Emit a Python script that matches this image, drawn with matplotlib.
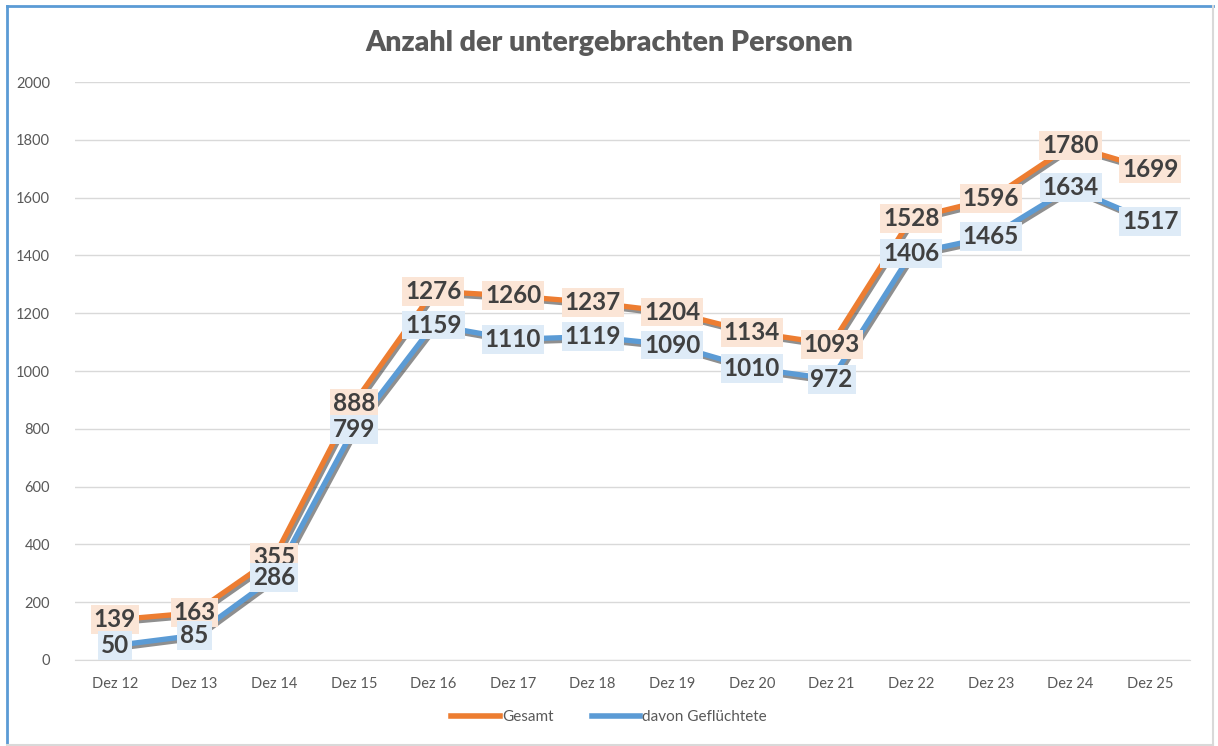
import matplotlib
matplotlib.use('Agg')
import matplotlib.pyplot as plt
import matplotlib.patheffects as pe
from matplotlib.lines import Line2D

plt.rcParams['font.family'] = ['Lato', 'DejaVu Sans']

tage = ['Dez 12', 'Dez 13', 'Dez 14', 'Dez 15', 'Dez 16', 'Dez 17', 'Dez 18',
        'Dez 19', 'Dez 20', 'Dez 21', 'Dez 22', 'Dez 23', 'Dez 24', 'Dez 25']
gesamt = [139, 163, 355, 888, 1276, 1260, 1237, 1204, 1134, 1093, 1528, 1596, 1780, 1699]
gefluechtete = [50, 85, 286, 799, 1159, 1110, 1119, 1090, 1010, 972, 1406, 1465, 1634, 1517]

orange = '#ED7D31'
blau = '#5B9BD5'
grau = '#595959'

fig = plt.figure(figsize=(12.18, 7.46), dpi=100)
ax = fig.add_axes([0.0616, 0.1153, 0.9154, 0.7747])

x = list(range(len(tage)))
shadow = [pe.SimpleLineShadow(offset=(1.5, -2), shadow_color='#333333', alpha=0.55), pe.Normal()]
ax.plot(x, gesamt, color=orange, lw=3.8, solid_capstyle='round', path_effects=shadow, zorder=3)
ax.plot(x, gefluechtete, color=blau, lw=3.8, solid_capstyle='round', path_effects=shadow, zorder=3)

# Datenbeschriftungen mitten auf den Punkten
for i in x:
    ax.text(i, gesamt[i], str(gesamt[i]), ha='center', va='center', fontsize=17.5,
            fontweight='bold', color='#404040', zorder=5,
            bbox=dict(boxstyle='square,pad=0.12', fc='#FBE5D6', ec='none'))
    ax.text(i, gefluechtete[i], str(gefluechtete[i]), ha='center', va='center', fontsize=17.5,
            fontweight='bold', color='#404040', zorder=5,
            bbox=dict(boxstyle='square,pad=0.12', fc='#DEEBF7', ec='none'))

ax.set_xlim(-0.5, len(tage) - 0.5)
ax.set_ylim(0, 2000)
ax.set_yticks(range(0, 2001, 200))
ax.set_xticks(x)
ax.set_xticklabels(tage)
ax.tick_params(axis='both', length=0, labelsize=10.5, colors=grau)
ax.tick_params(axis='x', pad=12)
ax.tick_params(axis='y', pad=18)
ax.grid(axis='y', color='#D9D9D9', lw=1)
ax.set_axisbelow(True)
for s in ['top', 'right', 'left']:
    ax.spines[s].set_visible(False)
ax.spines['bottom'].set_color('#D9D9D9')

fig.text(0.5, 0.942, 'Anzahl der untergebrachten Personen', ha='center', va='center',
         fontsize=20.5, fontweight='heavy', color=grau)

handles = [Line2D([0], [0], color=orange, lw=4), Line2D([0], [0], color=blau, lw=4)]
fig.legend(handles, ['Gesamt', 'davon Geflüchtete'], loc='center', bbox_to_anchor=(0.5, 0.039),
           ncol=2, frameon=False, fontsize=11, labelcolor=grau, handlelength=3.2,
           handletextpad=0.1, columnspacing=2.5)

# Rahmen des Diagramms
fig.add_artist(Line2D([0.006, 0.006], [0.0, 0.992], color=blau, lw=2, transform=fig.transFigure))
fig.add_artist(Line2D([0.006, 0.996], [0.992, 0.992], color=blau, lw=2, transform=fig.transFigure))
fig.add_artist(Line2D([0.996, 0.996], [0.0, 0.992], color='#D9D9D9', lw=1.5, transform=fig.transFigure))
fig.add_artist(Line2D([0.006, 0.996], [0.002, 0.002], color='#D9D9D9', lw=1.5, transform=fig.transFigure))

fig.savefig('out.png', dpi=100)
